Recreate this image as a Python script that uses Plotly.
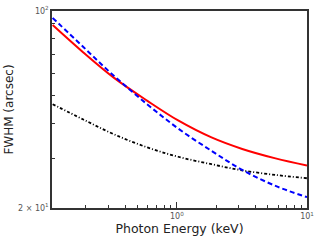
import plotly.graph_objects as go

energy = [0.1112, 0.1913, 0.3296, 0.594, 1.023, 1.846, 3.18, 5.73, 10.0]
fwhm_red = [89.2, 71.3, 57.9, 48.0, 40.9, 35.6, 32.4, 30.0, 28.3]
fwhm_blue = [94.5, 74.5, 58.8, 46.6, 38.3, 31.9, 27.3, 23.96, 21.85]
fwhm_black = [46.7, 41.2, 36.5, 32.8, 30.4, 28.6, 27.2, 26.2, 25.5]

x_ticks = [1, 10]
x_ticktext = ["10<sup>0</sup>", "10<sup>1</sup>"]
x_minor = [0.2, 0.3, 0.4, 0.5, 0.6, 0.7, 0.8, 0.9, 2, 3, 4, 5, 6, 7, 8, 9]
y_ticks = [20, 100]
y_ticktext = ["2 × 10<sup>1</sup>", "10<sup>2</sup>"]
y_minor = [30, 40, 50, 60, 70, 80, 90]

fig = go.Figure()
fig.add_trace(go.Scatter(x=energy, y=fwhm_black, mode="lines",
                         line=dict(color="black", width=1.8, dash="3px,2px,1px,2px", shape="spline")))
fig.add_trace(go.Scatter(x=energy, y=fwhm_red, mode="lines",
                         line=dict(color="#ff0000", width=2, shape="spline")))
fig.add_trace(go.Scatter(x=energy, y=fwhm_blue, mode="lines",
                         line=dict(color="#0000ff", width=2, dash="5px,3px", shape="spline")))

axis_common = dict(showline=True, linecolor="#333333", linewidth=1.5, mirror=True,
                   showgrid=False, zeroline=False, ticks="inside", tickcolor="#333333",
                   automargin=False,
                   tickfont=dict(family="DejaVu Sans", size=8, color="#555555"))

fig.update_xaxes(type="log", range=[-0.959, 1.0], tickmode="array", tickvals=x_ticks,
                 ticktext=x_ticktext, ticklen=6,
                 minor=dict(ticks="inside", tickmode="array", tickvals=x_minor, ticklen=3,
                            tickcolor="#333333"),
                 title=dict(text="Photon Energy (keV)",
                            font=dict(family="DejaVu Sans", size=12.5, color="#222222"),
                            standoff=2),
                 **axis_common)
fig.update_yaxes(type="log", range=[1.30103, 2.0], tickmode="array", tickvals=y_ticks,
                 ticktext=y_ticktext, ticklen=6,
                 minor=dict(ticks="inside", tickmode="array", tickvals=y_minor, ticklen=3,
                            tickcolor="#333333"),
                 title=dict(text="FWHM (arcsec)",
                            font=dict(family="DejaVu Sans", size=12, color="#222222"),
                            standoff=2),
                 **axis_common)

fig.update_layout(width=320, height=240, margin=dict(l=52, r=13, t=11, b=32),
                  paper_bgcolor="white", plot_bgcolor="white", showlegend=False)
fig.write_html("out.html", config={"displayModeBar": False},
               post_script="document.body.style.margin='0';")
